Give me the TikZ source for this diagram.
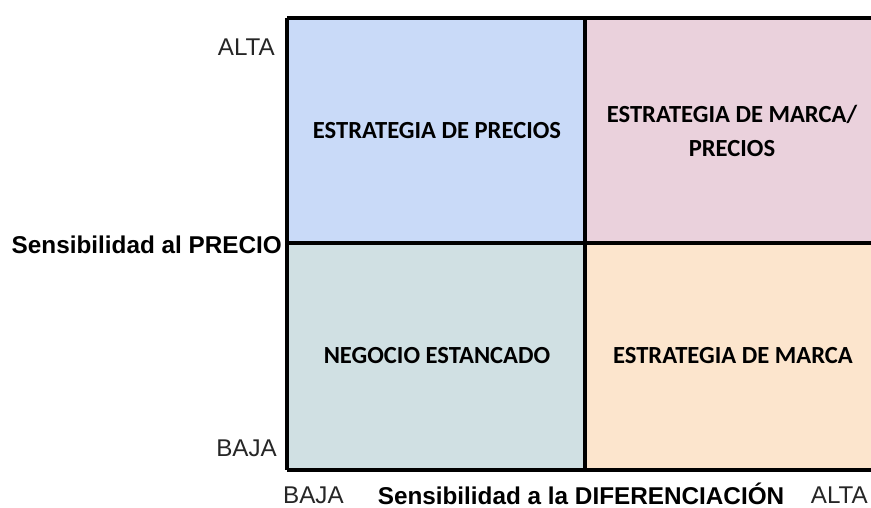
\documentclass[tikz,border=0pt]{standalone}
\usepackage{fontspec}
\setmainfont{Liberation Sans}
\newfontfamily\quadfont{Carlito}
\definecolor{qblue}{HTML}{C9DAF8}
\definecolor{qpink}{HTML}{EAD1DC}
\definecolor{qteal}{HTML}{D0E0E3}
\definecolor{qorange}{HTML}{FCE5CD}
\begin{document}
\begin{tikzpicture}[x=1pt,y=-1pt,
  quad/.style={draw=none,inner sep=0pt,outer sep=0pt,anchor=north west},
  qlabel/.style={font=\quadfont\bfseries\fontsize{24.6}{34}\selectfont,align=center,text=black},
  axis/.style={font=\fontsize{24.2}{28}\selectfont,inner sep=0pt,text=black!85},
  axisb/.style={font=\bfseries\fontsize{24.3}{28}\selectfont,inner sep=0pt,text=black},
  gridline/.style={line width=4pt,black}]
\useasboundingbox (0,0) rectangle (871,507);
\fill[white] (0,0) rectangle (871,507);
\node[quad,fill=qblue,minimum width=298pt,minimum height=225pt] (tl) at (287,18) {};
\node[quad,fill=qpink,minimum width=290pt,minimum height=225pt] (tr) at (585,18) {};
\node[quad,fill=qteal,minimum width=298pt,minimum height=227pt] (bl) at (287,243) {};
\node[quad,fill=qorange,minimum width=290pt,minimum height=227pt] (br) at (585,243) {};
\draw[gridline] (tl.north west) -- (tr.north east);
\draw[gridline] (tl.north west) -- (bl.south west);
\draw[gridline] (bl.south west) -- (br.south east);
\draw[gridline] (tl.south west) -- (tr.south east);
\draw[gridline] (tl.north east) -- (bl.south east);
\node[qlabel] (t1) at (437,131) {ESTRATEGIA DE PRECIOS};
\node[qlabel] (t2) at (732,131) {ESTRATEGIA DE MARCA/\\PRECIOS};
\node[qlabel] (t3) at (437,356) {NEGOCIO ESTANCADO};
\node[qlabel] (t4) at (733,356) {ESTRATEGIA DE MARCA};
\node[axis,anchor=east] (ya) at (275,47) {ALTA};
\node[axis,anchor=east] (yb) at (277,448) {BAJA};
\node[axisb,anchor=east] (yl) at (282,245) {Sensibilidad al PRECIO};
\node[axis,anchor=west] (xb) at (283,495) {BAJA};
\node[axisb] (xl) at (581,494) {Sensibilidad a la DIFERENCIACIÓN};
\node[axis,anchor=east] (xa) at (868,495) {ALTA};
\end{tikzpicture}
\end{document}
